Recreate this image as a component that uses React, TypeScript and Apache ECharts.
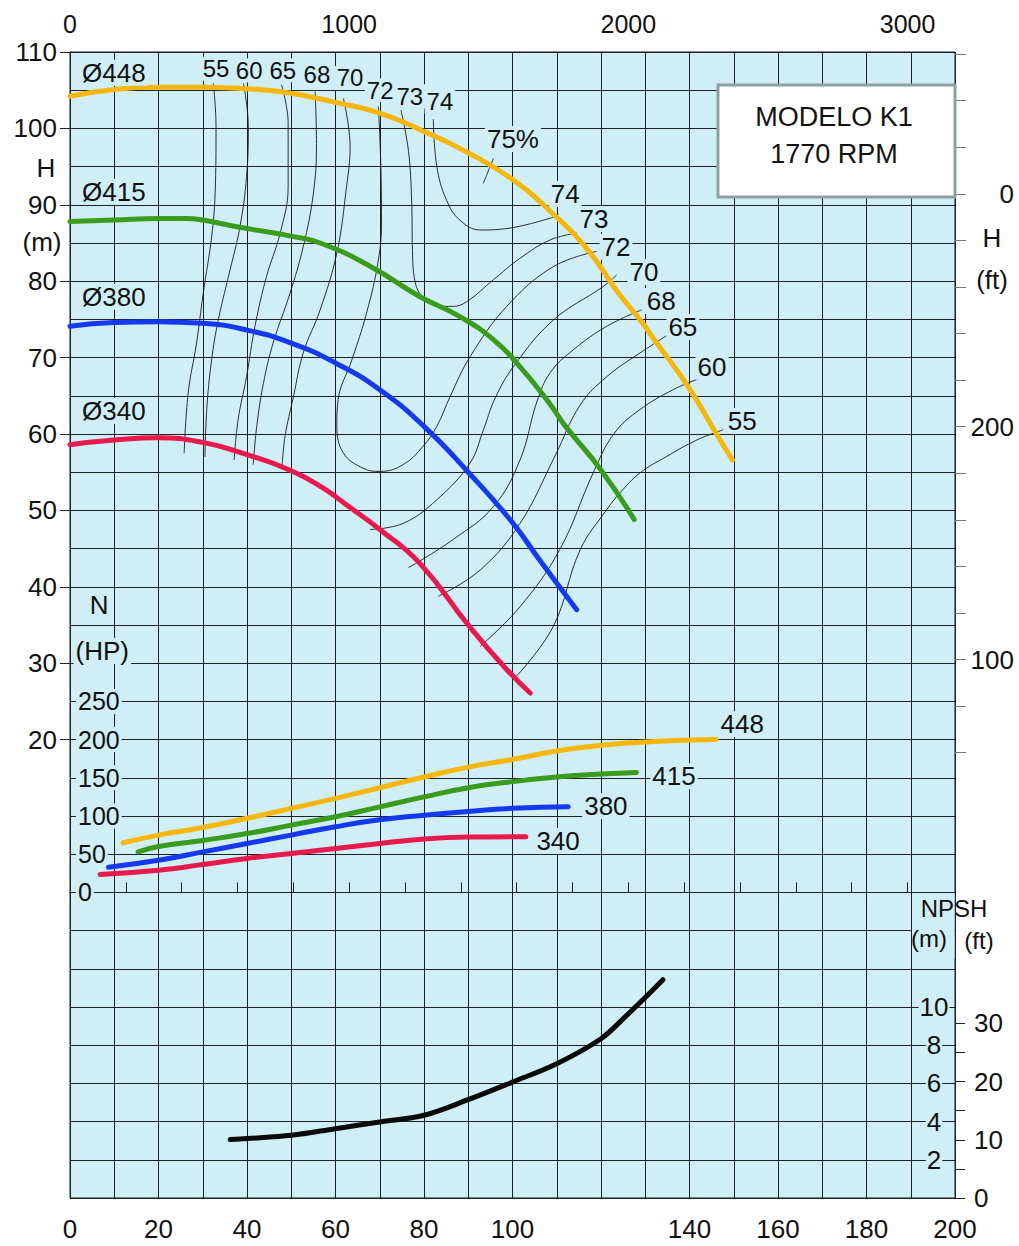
import { useEffect, useRef } from 'react';
import * as echarts from 'echarts';

const FONT = '"Liberation Sans", Arial, Helvetica, sans-serif';
const PLOT_BG = '#cfeef6';
const GRID = '#1d2226';
const INK = '#111111';

// ---------- axis ticks / labels ----------
const topTickValues = [0, 200, 400, 600, 800, 1000, 1200, 1400, 1600, 1800, 2000, 2200, 2400, 2600, 2800, 3000];
const topLabelValues = [0, 1000, 2000, 3000];
const hLabelValues = [20, 30, 40, 50, 60, 70, 80, 90, 100, 110];
const hpLabelValues = [0, 50, 100, 150, 200, 250];
const ftTickValues = [60, 80, 100, 120, 140, 160, 180, 200, 220, 240, 260, 280, 300, 320, 340, 360];
const ftLabelValues = [100, 200, 300];
const npshMLabelValues = [2, 4, 6, 8, 10];
const npshFtTickValues = [0, 5, 10, 15, 20, 25, 30];
const npshFtLabelValues = [0, 10, 20, 30];

// ---------- head curves H (m) vs Q (L/s) ----------
const head448 = [[0, 104.2], [10, 105.1], [20, 105.4], [30, 105.4], [40, 105.2], [50, 104.6], [60, 103.4], [70, 102], [80, 99.6], [90, 96.8], [100, 93.3], [109, 88.9], [117, 84.1], [124, 78.4], [128.5, 75.2], [132.6, 71.9], [139.7, 66.2], [146, 60.1], [149.7, 56.6]];
const head415 = [[0, 87.8], [10, 88], [20, 88.2], [26, 88.2], [30, 88], [38, 87.1], [50, 85.9], [57, 84.9], [68, 81.9], [79, 78], [88, 75.4], [96, 72.2], [102, 68.6], [108, 64.3], [112, 61], [120, 55.3], [127.5, 48.8]];
const head380 = [[0, 74.1], [10, 74.6], [20, 74.7], [30, 74.5], [40, 73.6], [50, 71.9], [60, 69.3], [70, 65.8], [80, 61], [90, 55], [100, 48.4], [106, 43.6], [114.5, 37]];
const head340 = [[0, 58.6], [10, 59.2], [20, 59.5], [30, 58.9], [40, 57.3], [50, 55.2], [57, 53], [63, 50.5], [70, 47.5], [79, 43.1], [90, 35], [98, 29.6], [104, 26.1]];

// ---------- power curves N (HP) vs Q ----------
const power448 = [[12, 65], [20, 75], [30, 85], [40, 97], [50, 110], [60, 123], [70, 137], [80, 151], [90, 164], [100, 174], [110, 185], [120, 192.5], [130, 197], [146, 200]];
const power415 = [[15.4, 53], [20, 60], [30, 68], [40, 77], [50, 88], [60, 99], [70, 112], [80, 125], [90, 137], [100, 145], [110, 151], [120, 155], [128, 157]];
const power380 = [[8.7, 33], [20, 42], [30, 53], [40, 64], [50, 75], [60, 86], [70, 95], [80, 101], [90, 106], [100, 110], [112.6, 112]];
const power340 = [[6.8, 23.5], [20, 29], [30, 36.5], [40, 44.5], [50, 51], [60, 57.6], [70, 64], [80, 70], [90, 72.5], [103, 73]];

// ---------- NPSH (m) vs Q ----------
const npsh = [[36.2, 3.06], [40, 3.11], [50, 3.28], [60, 3.63], [70, 3.98], [80, 4.33], [90, 5.15], [100, 6.07], [110, 7.03], [120, 8.34], [125.4, 9.47], [130, 10.5], [134, 11.43]];

// ---------- efficiency iso-lines (H m vs Q) ----------
const eff55L = [[32.4, 105.9], [33, 100.2], [32.8, 91.5], [32, 85.8], [30.1, 78.4], [28.6, 71.9], [26.7, 65.35], [25.8, 57.5]];
const eff60L = [[39.2, 105.9], [40.3, 100.2], [39.9, 93.7], [38.4, 87.1], [35.8, 80.6], [33.5, 74.9], [32, 69.7], [30.9, 63.2], [30.5, 57]];
const eff65L = [[47.8, 105.7], [49.3, 100.7], [49.3, 92.4], [47.5, 86.3], [44.4, 80.6], [41.8, 74.1], [39.9, 67.5], [38, 61.9], [37.1, 56.6]];
const eff68L = [[55.4, 104.8], [55.7, 98], [55, 91.5], [52.7, 84.5], [49.7, 78.4], [45.9, 71.9], [43.7, 66.6], [42.2, 61], [41.4, 56]];
const eff70L = [[61.8, 103.9], [63.3, 97.6], [62.5, 92.4], [60.3, 83.7], [56.5, 76.2], [52.7, 70.6], [50.5, 64.9], [48.6, 59.7], [47.9, 55.5]];
const eff72 = [[69.7, 102.9], [70.2, 95.9], [70.4, 88], [69.7, 82.8], [67, 75.8], [63.7, 69.7], [60.6, 64.5], [60.3, 61], [61.8, 57.5], [66.3, 55.5], [70.1, 55.1], [75.3, 56], [79.8, 58.4], [82.9, 61], [85.9, 64.9], [90.4, 70.1], [98.7, 76.7], [109.2, 81.9], [119, 83.9]];
const eff73 = [[74.8, 102.4], [76.5, 97], [77.2, 90.6], [77.4, 84], [77.8, 80.5], [79.5, 78], [83, 76.8], [86.5, 76.7], [89.6, 77.3], [95.7, 80.2], [101.7, 83], [108.5, 85.4], [114.5, 86.3]];
const eff74 = [[82.1, 101.2], [82.9, 95], [85.1, 90.6], [88.1, 88], [92.7, 86.7], [97.2, 86.8], [101.7, 87.2], [108.5, 88.25], [110.4, 88.7]];
const eff75Tick = [[93.4, 92.8], [95.7, 96.1]];
const eff70R = [[67.8, 47.5], [75.3, 48.3], [82.9, 51.4], [90.4, 56.2], [93.4, 60.5], [96, 64.6], [100.2, 68.8], [109.2, 74.9], [120.5, 79.3], [123.5, 80.8]];
const eff68R = [[76.5, 42.5], [86.6, 46.2], [95.7, 50.5], [101.7, 56.6], [105.5, 64.2], [108.5, 68], [113.7, 71], [121.3, 74.1], [129.2, 76.25]];
const eff65R = [[83.2, 38.75], [92.7, 42.2], [101.7, 48.3], [109.5, 57], [115.3, 63.8], [121.3, 67.5], [128.8, 70.6], [135.2, 73]];
const eff60R = [[92.7, 32.2], [101.7, 37.4], [110.7, 44.9], [118.3, 55], [123, 60.1], [128.8, 63.2], [136.3, 65.8], [142.4, 67.3]];
const eff55R = [[100.9, 28.3], [109.2, 34.8], [115.3, 44.85], [121.3, 50.1], [124.3, 52.3], [128.8, 54.9], [134.8, 57.05], [141.6, 59.2], [147.6, 60.55]];

// ---------- text annotations (anchor in Q / H or Q / HP) ----------
const headNotes = [
  { text: 'Ø448', at: [9.9, 107.3], size: 26 },
  { text: 'Ø415', at: [9.9, 91.7], size: 26 },
  { text: 'Ø380', at: [9.9, 77.95], size: 26 },
  { text: 'Ø340', at: [9.9, 63.0], size: 26 },
  { text: '55', at: [33, 107.8], size: 24 },
  { text: '60', at: [40.5, 107.6], size: 24 },
  { text: '65', at: [48.1, 107.6], size: 24 },
  { text: '68', at: [55.8, 107.1], size: 24 },
  { text: '70', at: [63.3, 106.6], size: 24 },
  { text: '72', at: [70.1, 105.0], size: 24 },
  { text: '73', at: [76.8, 104.2], size: 24 },
  { text: '74', at: [83.6, 103.5], size: 24 },
  { text: '75%', at: [100.1, 98.6], size: 26 },
  { text: '74', at: [111.9, 91.4], size: 26 },
  { text: '73', at: [118.4, 88.15], size: 26 },
  { text: '72', at: [123.4, 84.5], size: 26 },
  { text: '70', at: [129.7, 81.2], size: 26 },
  { text: '68', at: [133.6, 77.4], size: 26 },
  { text: '65', at: [138.5, 74.0], size: 26 },
  { text: '60', at: [145.1, 68.8], size: 26 },
  { text: '55', at: [151.9, 61.7], size: 26 },
  { text: 'N', at: [6.6, 37.65], size: 26 },
  { text: '(HP)', at: [7.3, 31.6], size: 26 },
];
const powerNotes = [
  { text: '448', at: [151.9, 220.2], size: 26 },
  { text: '415', at: [136.5, 152.1], size: 26 },
  { text: '380', at: [121.1, 113.2], size: 26 },
  { text: '340', at: [110.3, 67.4], size: 26 },
];

const YELLOW = '#f6b70c';
const GREEN = '#3b9b1c';
const BLUE = '#1539ef';
const RED = '#e8194d';

function thick(data: number[][], color: string, yAxisIndex: number, smooth = 0.5) {
  return {
    type: 'line', data, xAxisIndex: 0, yAxisIndex, smooth, symbol: 'none', z: 3,
    lineStyle: { color, width: 5, cap: 'round' }, silent: true,
  };
}
function thin(data: number[][]) {
  return {
    type: 'line', data, xAxisIndex: 0, yAxisIndex: 0, smooth: 0.4, symbol: 'none', z: 2,
    lineStyle: { color: '#1a1a1a', width: 0.9 }, silent: true,
  };
}
function notes(list: { text: string; at: number[]; size: number }[], yAxisIndex: number) {
  return {
    type: 'scatter', xAxisIndex: 0, yAxisIndex, symbolSize: 0, z: 6, silent: true,
    itemStyle: { color: INK, opacity: 1 },
    data: list.map((n) => ({
      value: n.at,
      label: {
        show: true, position: 'inside', formatter: n.text, fontSize: n.size, color: INK, opacity: 1,
        fontFamily: FONT, backgroundColor: PLOT_BG, padding: [0, 2],
        textBorderWidth: 0, textBorderColor: 'transparent', textShadowBlur: 0,
      },
    })),
  };
}

function txt(text: string, x: number, y: number, size: number, z = 12) {
  return {
    type: 'text', x, y, z,
    style: {
      text, fill: INK, font: `${size}px ${FONT}`,
      textAlign: 'center', textVerticalAlign: 'middle', align: 'center', verticalAlign: 'middle',
    },
  };
}

const axisTextBase = { color: INK, fontFamily: FONT };

const option = {
  animation: false,
  textStyle: { fontFamily: FONT },
  grid: {
    left: 70, right: 64, top: 52, bottom: 48, show: true,
    backgroundColor: PLOT_BG, borderColor: GRID, borderWidth: 1,
  },
  xAxis: [
    {
      type: 'value', position: 'bottom', min: 0, max: 200, interval: 20,
      axisLine: { show: true, lineStyle: { color: GRID, width: 1 } },
      axisTick: { show: true, length: 10, lineStyle: { color: GRID } },
      axisLabel: { ...axisTextBase, fontSize: 26, margin: 18, formatter: (v: number) => (v === 120 ? '' : String(v)) },
      splitLine: { show: true, lineStyle: { color: GRID, width: 1 } },
      minorTick: { show: false, splitNumber: 2 },
      minorSplitLine: { show: true, lineStyle: { color: GRID, width: 1 } },
    },
    {
      type: 'value', position: 'top', min: 0, max: 3170, interval: 200,
      axisLine: { show: true, lineStyle: { color: GRID, width: 1 } },
      axisTick: { show: true, length: 10, customValues: topTickValues, lineStyle: { color: GRID } },
      axisLabel: {
        ...axisTextBase, fontSize: 25, margin: 16, customValues: topLabelValues,
        formatter: (v: number) => (v % 1000 === 0 ? String(v) : ''),
      },
      splitLine: { show: false },
    },
  ],
  yAxis: [
    {
      type: 'value', position: 'left', min: -40, max: 110, interval: 5,
      axisLine: { show: true, lineStyle: { color: GRID, width: 1 } },
      axisTick: { show: false }, axisLabel: { show: false },
      splitLine: { show: true, lineStyle: { color: GRID, width: 1 } },
    },
    {
      type: 'value', position: 'left', min: -40, max: 110, interval: 10,
      axisLine: { show: false },
      axisTick: { show: true, length: 10, customValues: hLabelValues, lineStyle: { color: GRID } },
      axisLabel: {
        ...axisTextBase, fontSize: 26, margin: 13, customValues: hLabelValues,
        formatter: (v: number) => (v >= 20 ? String(v) : ''),
      },
      splitLine: { show: false },
    },
    {
      type: 'value', position: 'left', min: -400, max: 1100, interval: 50,
      axisLine: { show: false }, axisTick: { show: false },
      axisLabel: {
        ...axisTextBase, inside: true, margin: 6, fontSize: 25, customValues: hpLabelValues,
        backgroundColor: PLOT_BG, padding: [0, 2],
        formatter: (v: number) => (v >= 0 && v <= 250 ? String(v) : ''),
      },
      splitLine: { show: false },
    },
    {
      type: 'value', position: 'right', min: -40 / 0.3048, max: 110 / 0.3048,
      axisLine: { show: false },
      axisTick: { show: true, length: 11, customValues: ftTickValues, lineStyle: { color: '#6f7a7e' } },
      axisLabel: {
        ...axisTextBase, fontSize: 26, align: 'right', margin: 59, customValues: ftLabelValues,
        formatter: (v: number) => (v === 300 ? '0' : String(v)),
      },
      splitLine: { show: false },
    },
    {
      type: 'value', position: 'right', min: 0, max: 60,
      axisLine: { show: false }, axisTick: { show: false },
      axisLabel: {
        ...axisTextBase, inside: true, align: 'center', margin: 21, fontSize: 26,
        customValues: npshMLabelValues, backgroundColor: PLOT_BG, padding: [0, 1],
      },
      splitLine: { show: false },
    },
    {
      type: 'value', position: 'right', min: 0, max: 60 / 0.3048,
      axisLine: { show: false },
      axisTick: { show: true, length: 10, customValues: npshFtTickValues, lineStyle: { color: GRID } },
      axisLabel: { ...axisTextBase, fontSize: 26, align: 'left', margin: 19, customValues: npshFtLabelValues },
      splitLine: { show: false },
    },
  ],
  graphic: [
    { type: 'rect', z: 5, shape: { x: 912, y: 893, width: 42.5, height: 66 }, style: { fill: PLOT_BG } },
    { type: 'rect', z: 10, shape: { x: 718, y: 85, width: 237, height: 112 }, style: { fill: '#ffffff', stroke: '#8e9fa4', lineWidth: 3 } },
    txt('MODELO K1', 834, 117, 27),
    txt('1770 RPM', 834, 154, 27),
    txt('H', 46, 168, 26),
    txt('(m)', 42, 242, 26),
    txt('H', 992, 238, 26),
    txt('(ft)', 992, 280, 26),
    txt('NPSH', 954, 908, 24),
    txt('(m)', 929, 938, 24),
    txt('(ft)', 979, 940, 24),
  ],
  series: [
    thin(eff55L), thin(eff60L), thin(eff65L), thin(eff68L), thin(eff70L),
    thin(eff72), thin(eff73), thin(eff74), thin(eff75Tick),
    thin(eff70R), thin(eff68R), thin(eff65R), thin(eff60R), thin(eff55R),
    thick(head448, YELLOW, 0),
    thick(head415, GREEN, 0),
    thick(head380, BLUE, 0),
    thick(head340, RED, 0),
    thick(power448, YELLOW, 2),
    thick(power415, GREEN, 2),
    thick(power380, BLUE, 2),
    thick(power340, RED, 2),
    thick(npsh, '#0a0a0a', 4, 0.35),
    notes(headNotes, 0),
    notes(powerNotes, 2),
  ],
};

export default function App() {
  const ref = useRef<HTMLDivElement>(null);
  useEffect(() => {
    const chart = echarts.init(ref.current as HTMLDivElement, null, { renderer: 'svg' });
    chart.setOption(option as any);
    return () => chart.dispose();
  }, []);
  return (
    <div
      ref={ref}
      style={{ position: 'absolute', left: 0, top: 0, width: 1019, height: 1246, background: '#ffffff' }}
    />
  );
}
